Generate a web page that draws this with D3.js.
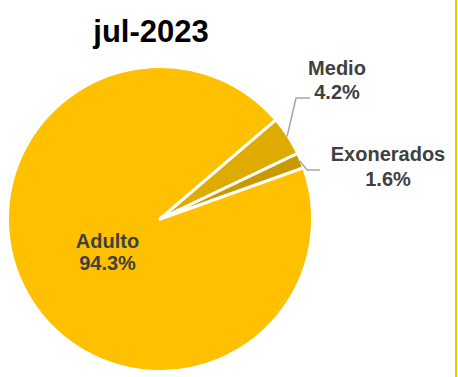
<!DOCTYPE html>
<html>
<head>
<meta charset="utf-8">
<script src="https://cdn.jsdelivr.net/npm/d3@7"></script>
<style>
  html, body { margin: 0; padding: 0; background: #fff; }
  svg { display: block; }
</style>
</head>
<body>
<svg id="chart" width="458" height="377"></svg>
<script>
const title = "jul-2023";
const categories = ["Adulto", "Medio", "Exonerados"];
const values = [94.3, 4.2, 1.6];
const labels = ["94.3%", "4.2%", "1.6%"];
const colors = ["#FFC000", "#DFAB00", "#C89900"];

const W = 458, H = 377;
const cx = 160, cy = 219, R = 152.5;
const startDeg = 70.3;

const svg = d3.select("#chart");

// right border line
svg.append("rect").attr("x", 455).attr("y", 0).attr("width", 2).attr("height", H).attr("fill", "#FFC000");

svg.append("text")
  .attr("x", 151).attr("y", 42)
  .attr("text-anchor", "middle")
  .attr("font-family", "Liberation Sans, Arial, sans-serif")
  .attr("font-weight", "bold")
  .attr("font-size", 31)
  .attr("fill", "#000")
  .text(title);

const data = categories.map((c, i) => ({ cat: c, value: values[i], label: labels[i], color: colors[i] }));

const s = startDeg * Math.PI / 180;
const pie = d3.pie().sort(null).value(d => d.value).startAngle(s).endAngle(s + 2 * Math.PI);
const arcs = pie(data);
const arc = d3.arc().innerRadius(0).outerRadius(R);

const g = svg.append("g").attr("transform", `translate(${cx},${cy})`);
g.selectAll("path").data(arcs).enter().append("path")
  .attr("d", arc)
  .attr("fill", d => d.data.color)
  .attr("stroke", "#fff")
  .attr("stroke-width", 3)
  .attr("stroke-linejoin", "round");

// label layout (positions relative to the chart)
const layout = {
  "Adulto": { x: 107.5, y: 247.5, gap: 22.5, leader: null },
  "Medio": { x: 337, y: 74.5, gap: 24, leader: [[296, 98], [310, 98]] },
  "Exonerados": { x: 388, y: 160.5, gap: 25, leader: [[307, 170], [320, 170]] }
};

arcs.forEach(a => {
  const L = layout[a.data.cat];
  if (L.leader) {
    const mid = (a.startAngle + a.endAngle) / 2;
    const p0 = [cx + (R - 1) * Math.sin(mid), cy - (R - 1) * Math.cos(mid)];
    const pts = [p0].concat(L.leader);
    svg.append("path")
      .attr("d", d3.line()(pts))
      .attr("fill", "none")
      .attr("stroke", "#A6A6A6")
      .attr("stroke-width", 1.5);
  }
  const t = svg.append("text")
    .attr("text-anchor", "middle")
    .attr("font-family", "Liberation Sans, Arial, sans-serif")
    .attr("font-weight", "bold")
    .attr("font-size", 20)
    .attr("fill", "#404040");
  t.append("tspan").attr("x", L.x).attr("y", L.y).text(a.data.cat);
  t.append("tspan").attr("x", L.x).attr("y", L.y + L.gap).text(a.data.label);
});
</script>
</body>
</html>
